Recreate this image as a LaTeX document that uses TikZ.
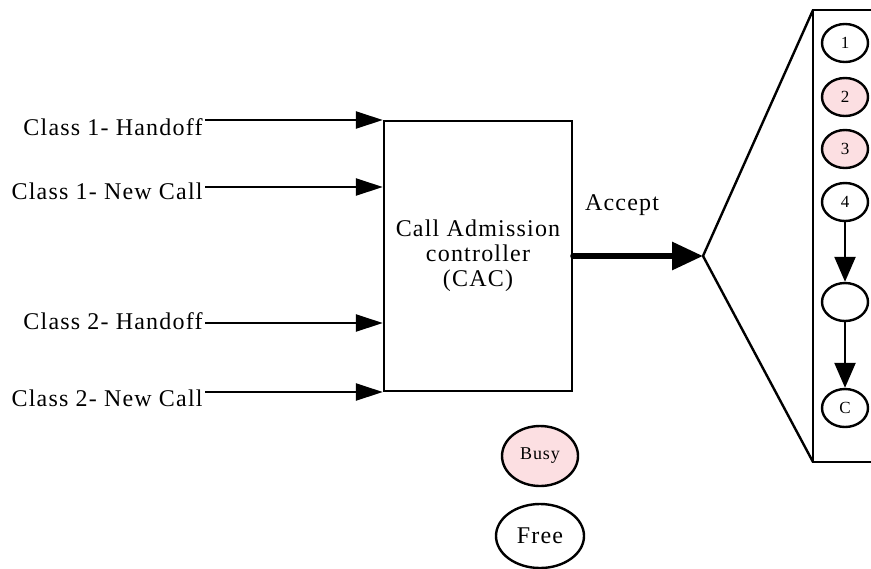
\documentclass[tikz,border=0pt]{standalone}
\usepackage{fontspec}
\setmainfont{Liberation Serif}[LetterSpace=5]
\usepackage{tikz}
\usetikzlibrary{arrows.meta,shapes.geometric}

\definecolor{busypink}{RGB}{252,223,226}

\tikzset{
  txt/.style={inner sep=0pt,font=\fontsize{12}{12.5}\selectfont},
  inarrow/.style={line width=1.2pt,-{Triangle[length=13.5pt,width=8.5pt]}},
  slot/.style={draw,ellipse,line width=1.2pt,inner sep=0pt,minimum width=23pt,minimum height=19pt,font=\fontsize{8.5}{9}\selectfont},
  slotarrow/.style={line width=1.2pt,-{Triangle[length=12.5pt,width=10.5pt]}}
}

\begin{document}
\begin{tikzpicture}[x=0.5pt,y=-0.5pt]

\useasboundingbox (0,0) rectangle (871,568);

\node[draw,line width=1.2pt,txt,align=center,minimum width=94pt,minimum height=135pt] (cac) at (478,256)
  {Call Admission\\controller\\(CAC)};

\foreach \n/\t/\ty/\ly in {h1/Class 1- Handoff/127/120, n1/Class 1- New Call/191/187, h2/Class 2- Handoff/321/323, n2/Class 2- New Call/398/392}
{
  \node[txt,anchor=east] (\n) at (203,\ty) {\t};
  \coordinate (\n s) at (205,\ly);
  \draw[inarrow] (\n s) -- (cac.west |- \n s);
}

\coordinate (apex) at (703,256);
\coordinate (ftop) at (813,10);
\coordinate (fbot) at (813,462);

\draw[line width=3pt,line cap=round,-{Triangle[length=15.5pt,width=13.5pt]}] (cac.east) -- (apex);
\node[txt] (accept) at (622,205) {Accept};

\draw[line width=1.2pt] (ftop) -- (apex) -- (fbot);
\draw[line width=1.2pt] (871,10) -- (ftop) -- (fbot) -- (871,462);

\foreach \i/\y/\c in {1/43/white, 2/97/busypink, 3/149/busypink, 4/202/white}
  \node[slot,fill=\c] (s\i) at (845,\y) {\i};
\node[slot] (s5) at (845,302) {};
\node[slot] (sC) at (845,408) {C};

\draw[slotarrow] (s4) -- (s5);
\draw[slotarrow] (s5) -- (sC);

\node[slot,fill=busypink,minimum width=38pt,minimum height=30pt,font=\fontsize{9}{10}\selectfont] (busy) at (540,456) {Busy};
\node[slot,minimum width=44pt,minimum height=32pt,font=\fontsize{12}{12.5}\selectfont] (free) at (540,536) {Free};

\end{tikzpicture}
\end{document}
